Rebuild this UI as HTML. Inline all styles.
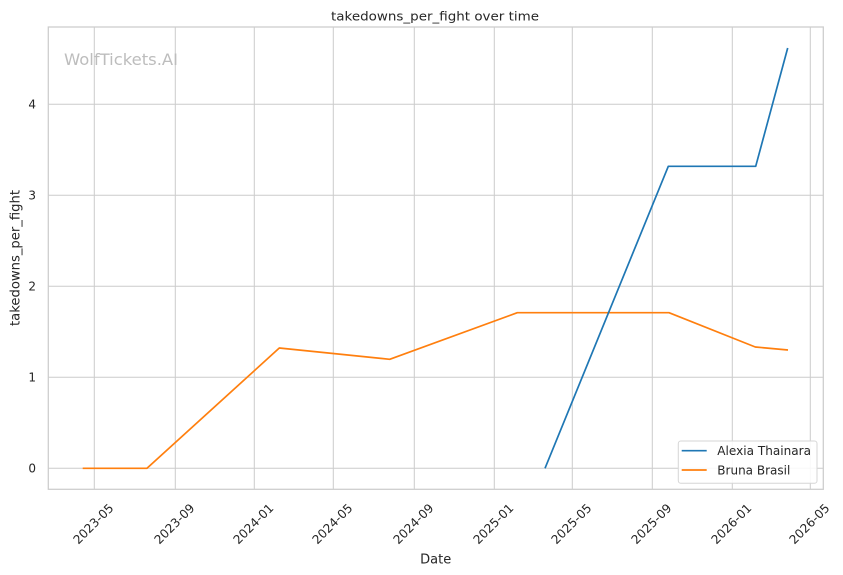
<!DOCTYPE html>
<html>
<head>
<meta charset="utf-8">
<style>
html,body{margin:0;padding:0;background:#fff;}
svg{display:block;}
text{font-family:"DejaVu Sans","Liberation Sans",sans-serif;fill:#262626;}
</style>
</head>
<body>
<svg width="843" height="575" viewBox="0 0 843 575" xmlns="http://www.w3.org/2000/svg">
<rect x="0" y="0" width="843" height="575" fill="#fff"/>
<!-- grid -->
<g stroke="#cccccc" stroke-width="1">
<line x1="94.3" y1="27" x2="94.3" y2="489.3"/>
<line x1="175.3" y1="27" x2="175.3" y2="489.3"/>
<line x1="254.3" y1="27" x2="254.3" y2="489.3"/>
<line x1="333.3" y1="27" x2="333.3" y2="489.3"/>
<line x1="414.3" y1="27" x2="414.3" y2="489.3"/>
<line x1="494.3" y1="27" x2="494.3" y2="489.3"/>
<line x1="572.3" y1="27" x2="572.3" y2="489.3"/>
<line x1="652.3" y1="27" x2="652.3" y2="489.3"/>
<line x1="732.3" y1="27" x2="732.3" y2="489.3"/>
<line x1="810.3" y1="27" x2="810.3" y2="489.3"/>
<line x1="48.3" y1="468.3" x2="823.3" y2="468.3"/>
<line x1="48.3" y1="377.3" x2="823.3" y2="377.3"/>
<line x1="48.3" y1="286.3" x2="823.3" y2="286.3"/>
<line x1="48.3" y1="195.3" x2="823.3" y2="195.3"/>
<line x1="48.3" y1="104.3" x2="823.3" y2="104.3"/>
</g>
<rect x="48.3" y="27" width="775" height="462.3" fill="none" stroke="#cccccc" stroke-width="1.25"/>
<!-- watermark -->
<text x="64" y="65" font-size="16.3" style="fill:#bdbdbd" textLength="114" lengthAdjust="spacingAndGlyphs">WolfTickets.AI</text>
<!-- series -->
<polyline fill="none" stroke="#ff7f0e" stroke-width="1.7" stroke-linejoin="round" points="82.7,468.3 147,468.3 279.3,348 389.7,359.3 517.3,312.7 669,312.7 755.3,347 788,350"/>
<polyline fill="none" stroke="#1f77b4" stroke-width="1.7" stroke-linejoin="round" points="545,468.3 668.3,166.3 755.7,166.3 787.7,48"/>
<!-- title -->
<text x="435" y="20.5" font-size="12.5" text-anchor="middle" textLength="208" lengthAdjust="spacingAndGlyphs">takedowns_per_fight over time</text>
<!-- y ticks -->
<g font-size="12" text-anchor="end">
<text x="36" y="472.5">0</text>
<text x="36" y="381.5">1</text>
<text x="36" y="290.5">2</text>
<text x="36" y="199.5">3</text>
<text x="36" y="108.5">4</text>
</g>
<!-- y label -->
<text transform="translate(19.5,258) rotate(-90)" font-size="13" text-anchor="middle" textLength="136" lengthAdjust="spacingAndGlyphs">takedowns_per_fight</text>
<!-- x ticks -->
<g font-size="12.2" text-anchor="middle" dominant-baseline="central">
<text transform="translate(93.5,524) rotate(-45)">2023-05</text>
<text transform="translate(174.5,524) rotate(-45)">2023-09</text>
<text transform="translate(253.5,524) rotate(-45)">2024-01</text>
<text transform="translate(332.5,524) rotate(-45)">2024-05</text>
<text transform="translate(413.5,524) rotate(-45)">2024-09</text>
<text transform="translate(493.5,524) rotate(-45)">2025-01</text>
<text transform="translate(571.5,524) rotate(-45)">2025-05</text>
<text transform="translate(651.5,524) rotate(-45)">2025-09</text>
<text transform="translate(731.5,524) rotate(-45)">2026-01</text>
<text transform="translate(809.5,524) rotate(-45)">2026-05</text>
</g>
<!-- x label -->
<text x="435.7" y="563.3" font-size="13" text-anchor="middle">Date</text>
<!-- legend -->
<rect x="678.3" y="441" width="138.7" height="42.3" rx="2.5" ry="2.5" fill="#fff" fill-opacity="0.85" stroke="#d6d6d6" stroke-width="1"/>
<line x1="681.7" y1="450.7" x2="706.7" y2="450.7" stroke="#1f77b4" stroke-width="1.7"/>
<line x1="681.7" y1="470" x2="706.7" y2="470" stroke="#ff7f0e" stroke-width="1.7"/>
<text x="717.3" y="455.2" font-size="12" textLength="93.7" lengthAdjust="spacingAndGlyphs">Alexia Thainara</text>
<text x="717.3" y="474.5" font-size="12">Bruna Brasil</text>
</svg>
</body>
</html>
